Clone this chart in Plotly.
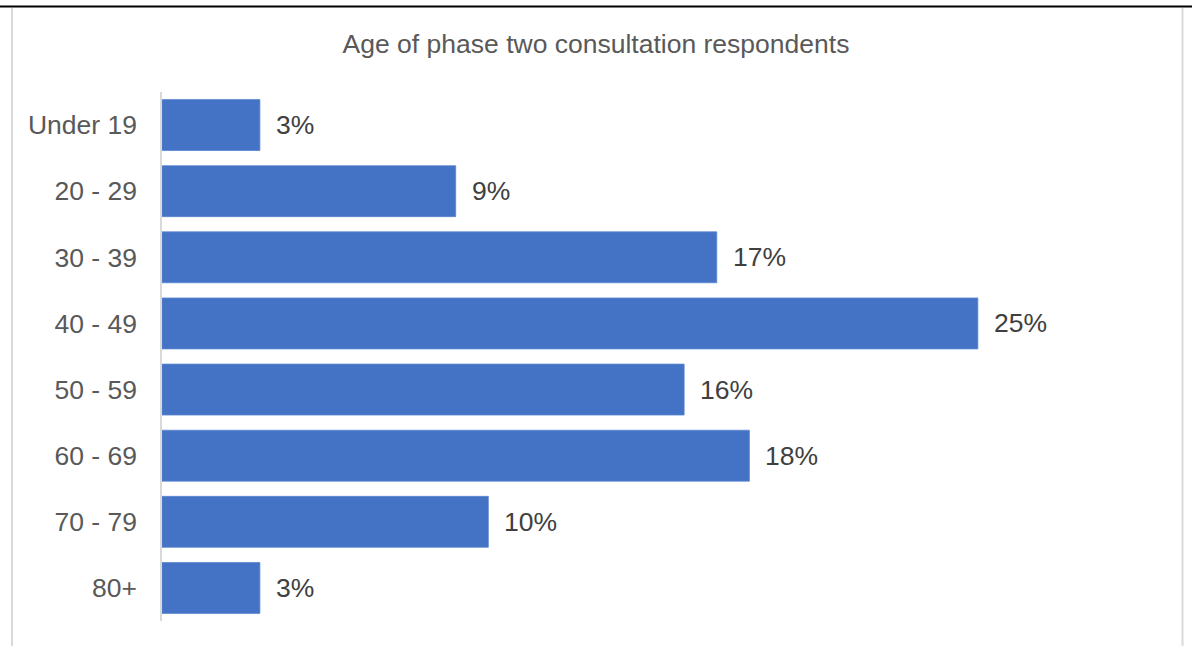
import plotly.graph_objects as go

# Age bands and share of respondents (%)
age_bands = ["Under 19", "20 - 29", "30 - 39", "40 - 49", "50 - 59", "60 - 69", "70 - 79", "80+"]
share_pct = [3, 9, 17, 25, 16, 18, 10, 3]
chart_title = "Age of phase two consultation respondents"

W, H = 1192, 646
M_L, M_R, M_T, M_B = 162, 51, 92, 25
PLOT_W = W - M_L - M_R
PLOT_H = H - M_T - M_B


def px_x(p):
    return (p - M_L) / PLOT_W


def px_y(p):
    return 1 - (p - M_T) / PLOT_H


FONT = "Liberation Sans, Arial, sans-serif"
FS = 26.5

fig = go.Figure(
    go.Bar(
        x=share_pct,
        y=age_bands,
        orientation="h",
        marker=dict(color="#4472C4", line=dict(color="#5A86D2", width=0.8)),
        hoverinfo="skip",
    )
)

# value labels beside each bar
for band, val in zip(age_bands, share_pct):
    fig.add_annotation(
        x=val, y=band, xref="x", yref="y",
        text=f"{val}%", showarrow=False,
        xanchor="left", yanchor="middle", xshift=14,
        font=dict(family=FONT, size=FS, color="#404040"),
    )

# frame lines around the chart area
fig.add_shape(type="line", xref="paper", yref="paper",
              x0=px_x(0), x1=px_x(W), y0=px_y(6.5), y1=px_y(6.5),
              line=dict(color="#000000", width=2))
for xpix in (12, 1182.5):
    fig.add_shape(type="line", xref="paper", yref="paper",
                  x0=px_x(xpix), x1=px_x(xpix), y0=px_y(8), y1=px_y(H + 2),
                  line=dict(color="#D9D9D9", width=2))

fig.update_layout(
    width=W, height=H,
    margin=dict(l=M_L, r=M_R, t=M_T, b=M_B, pad=0),
    paper_bgcolor="white", plot_bgcolor="white",
    showlegend=False,
    bargap=0.23,
    title=dict(
        text=chart_title, x=0.5, xanchor="center",
        y=1 - 44 / H, yanchor="middle", yref="container",
        font=dict(family=FONT, size=FS, color="#595959"),
    ),
    xaxis=dict(range=[0, 30], visible=False, fixedrange=True),
    yaxis=dict(
        autorange="reversed",
        showline=True, linecolor="#D9D9D9", linewidth=1.5,
        showgrid=False, zeroline=False,
        ticks="", ticklabelstandoff=18,
        tickfont=dict(family=FONT, size=FS, color="#595959"),
    ),
)

fig.write_html("out.html")
